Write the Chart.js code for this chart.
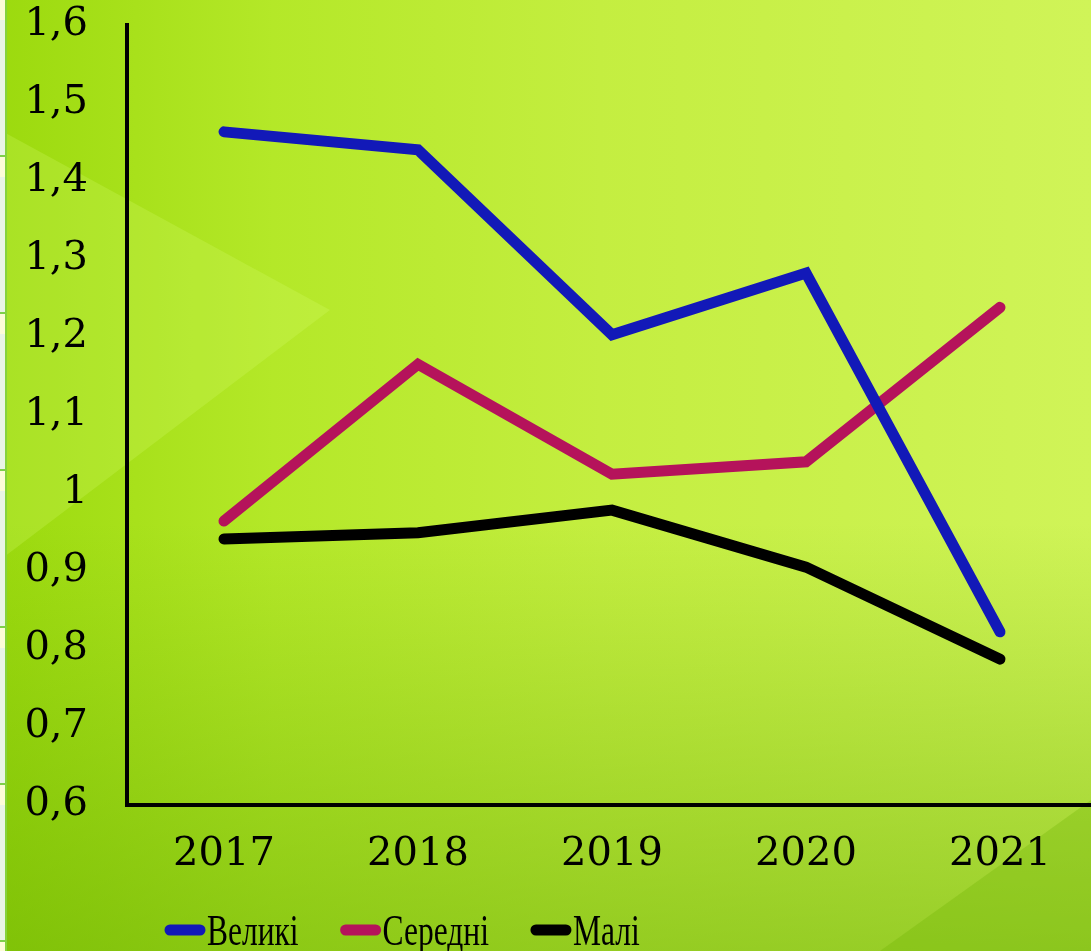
<!DOCTYPE html>
<html>
<head>
<meta charset="utf-8">
<script src="https://cdn.jsdelivr.net/npm/chart.js@4"></script>
<style>
  html, body { margin: 0; padding: 0; overflow: hidden; }
  #wrap {
    position: relative; width: 1091px; height: 951px; overflow: hidden;
    background:
      linear-gradient(180deg, rgba(100, 170, 0, 0) 0%, rgba(100, 170, 0, 0) 55%, rgba(100, 170, 0, 0.5) 100%),
      linear-gradient(90deg, #9cda0e 0%, #b4e828 25%, #c4ee40 55%, #d0f458 100%);
  }
  #chevron {
    position: absolute; left: 0; top: 0; width: 1091px; height: 951px;
    background: rgba(220, 255, 120, 0.22);
    clip-path: polygon(0 130px, 330px 310px, 0 560px);
  }
  #corner {
    position: absolute; left: 0; top: 0; width: 1091px; height: 951px;
    background: rgba(110, 180, 0, 0.3);
    clip-path: polygon(880px 951px, 1091px 800px, 1091px 951px);
  }
  #strip {
    position: absolute; left: 0; top: 0; width: 5px; height: 951px;
    background: repeating-linear-gradient(180deg, #fdfcd8 0px, #fdfcd8 20px, #eaf4e6 20px, #eaf4e6 155px, #7ed04a 155px, #7ed04a 157px);
    border-right: 2px solid #86d23c;
  }
  canvas { position: absolute; left: 0; top: 0; }
</style>
</head>
<body>
<div id="wrap">
  <div id="chevron"></div>
  <div id="corner"></div>
  <div id="strip"></div>
  <canvas id="chart" width="1097" height="951"></canvas>
</div>
<script>
// дані
const years = ['2017', '2018', '2019', '2020', '2021'];
const velyki = [1.463, 1.44, 1.203, 1.282, 0.822];
const seredni = [0.964, 1.165, 1.024, 1.04, 1.238];
const mali = [0.941, 0.949, 0.978, 0.905, 0.787];
const seriesNames = ['Великі', 'Середні', 'Малі'];
const seriesColors = ['#1219b8', '#b5135b', '#000000'];

// легенда знизу (своя, щоб лінії стояли впритул до тексту)
const bottomLegend = {
  id: 'bottomLegend',
  afterDraw(chart) {
    const ctx = chart.ctx;
    const sx = 0.7;
    let x = 165;
    const y = 930;
    ctx.save();
    ctx.font = '45px "Liberation Serif"';
    ctx.textBaseline = 'alphabetic';
    ctx.fillStyle = '#000';
    chart.data.datasets.forEach(ds => {
      ctx.strokeStyle = ds.borderColor;
      ctx.lineWidth = 11;
      ctx.lineCap = 'round';
      ctx.beginPath();
      ctx.moveTo(x + 5, y);
      ctx.lineTo(x + 35, y);
      ctx.stroke();
      const tx = x + 42;
      const w = ctx.measureText(ds.label).width * sx;
      ctx.save();
      ctx.translate(tx, 945);
      ctx.scale(sx, 1);
      ctx.fillText(ds.label, 0, 0);
      ctx.restore();
      x = tx + w + 42;
    });
    ctx.restore();
  }
};

function makeSet(i, values) {
  return {
    label: seriesNames[i],
    data: values,
    borderColor: seriesColors[i],
    backgroundColor: seriesColors[i],
    borderWidth: 11,
    borderCapStyle: 'round',
    borderJoinStyle: 'miter',
    pointRadius: 0,
    tension: 0,
    fill: false
  };
}

new Chart(document.getElementById('chart'), {
  type: 'line',
  data: {
    labels: years,
    datasets: [makeSet(0, velyki), makeSet(1, seredni), makeSet(2, mali)]
  },
  options: {
    responsive: false,
    animation: false,
    layout: { padding: { top: 25, left: 0, right: 0, bottom: 0 } },
    plugins: {
      legend: { display: false },
      tooltip: { enabled: false }
    },
    scales: {
      x: {
        offset: true,
        grid: { display: false, drawTicks: false },
        border: { display: true, color: '#000', width: 4 },
        ticks: {
          color: '#000',
          padding: 26,
          font: { family: 'DejaVu Serif', size: 40 }
        },
        afterFit(scale) { scale.height = 146; }
      },
      y: {
        min: 0.6,
        max: 1.6,
        grid: { display: false, drawTicks: false },
        border: { display: true, color: '#000', width: 4 },
        ticks: {
          stepSize: 0.1,
          color: '#000',
          padding: 39,
          font: { family: 'DejaVu Serif', size: 40 },
          callback: function(v) {
            const r = Math.round(v * 10) / 10;
            return r === 1 ? '1' : r.toFixed(1).replace('.', ',');
          }
        },
        afterFit(scale) {
          scale.width = 127;
          scale.paddingTop = 25;
          scale.paddingBottom = 0;
        }
      }
    }
  },
  plugins: [bottomLegend]
});
</script>
</body>
</html>
